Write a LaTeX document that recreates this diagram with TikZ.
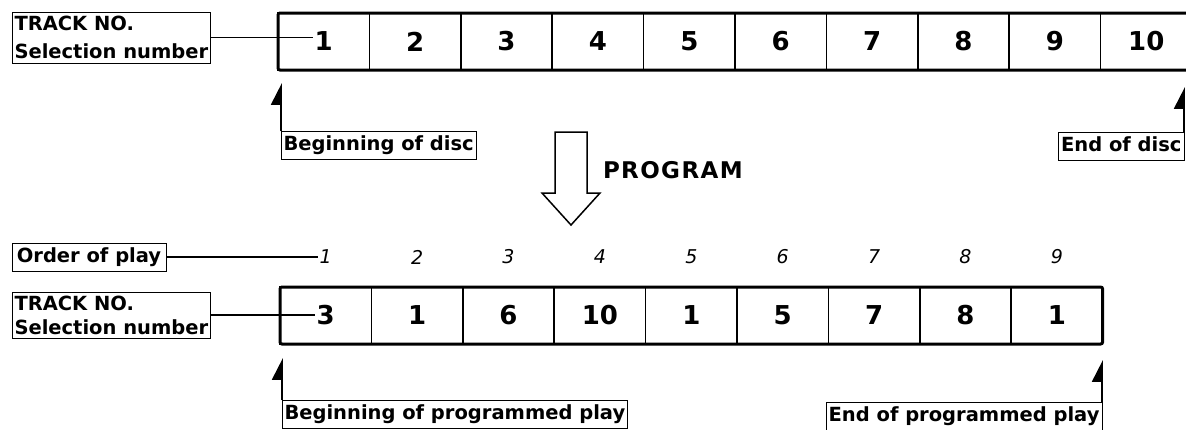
\documentclass[tikz,border=0pt]{standalone}
\usepackage{fontspec}
\setmainfont{DejaVu Sans}
\usetikzlibrary{positioning,arrows.meta}

\begin{document}
\begin{tikzpicture}[x=1pt,y=-1pt,node distance=0pt,nodes={outer sep=0pt,inner sep=0pt},
    cell/.style={draw,line width=1.5pt,minimum width=91.4pt,minimum height=57pt,font=\fontsize{26}{26}\selectfont\bfseries},
    tag/.style={draw,line width=1pt,inner xsep=2.5pt,font=\fontsize{19.5}{26}\selectfont\bfseries},
    tagone/.style={tag,text height=15pt,text depth=5pt,inner ysep=4pt},
    ordnum/.style={font=\fontsize{19}{19}\selectfont\itshape},
    lead/.style={line width=1.8pt},
    pointer/.style={line width=1.8pt,-{Triangle[left,length=20pt,width=20pt]}}]
      \useasboundingbox (0,0) rectangle (1186,429);
      \node (t1) at (278,13) [cell,anchor=north west] {1};
      \node (t2)  [cell,right=of t1] {2};
      \node (t3)  [cell,right=of t2] {3};
      \node (t4)  [cell,right=of t3] {4};
      \node (t5)  [cell,right=of t4] {5};
      \node (t6)  [cell,right=of t5] {6};
      \node (t7)  [cell,right=of t6] {7};
      \node (t8)  [cell,right=of t7] {8};
      \node (t9)  [cell,right=of t8] {9};
      \node (t10) [cell,right=of t9] {10};
      \draw[line width=3pt,rounded corners=2pt] (t10.north east) -- (t1.north west) -- (t1.south west) -- (t10.south east);
      \node (trackone) at (12,12) [tag,anchor=north west,align=left,minimum height=51pt,font=\fontsize{19.5}{28}\selectfont\bfseries] {TRACK NO.\\Selection number};
      \draw[lead,shorten >=11pt] (trackone.east) -- (trackone.east -| t1.center);
      \node (discbegin) at (281,131) [tagone,anchor=north west] {Beginning of disc};
      \node (discend) at (1184,132) [tagone,anchor=north east] {End of disc};
      \coordinate (discbegintip) at (281,83);
      \coordinate (discendtip) at (1184,87);
      \draw[pointer] (discbegin.north west) -- (discbegintip);
      \draw[pointer] (discend.north east) -- (discendtip);
      \draw[line width=1.5pt,line join=miter] (555,132) -- (587,132) -- (587,193) -- (600,193) -- (571,225) -- (542,193) -- (555,193) -- cycle;
      \node (program) at (603,170) [anchor=west,font=\fontsize{23}{23}\selectfont\bfseries\addfontfeatures{LetterSpace=6}] {PROGRAM};
      \node (b1) at (280,287) [cell,anchor=north west] {3};
      \node (b2) [cell,right=of b1] {1};
      \node (b3) [cell,right=of b2] {6};
      \node (b4) [cell,right=of b3] {10};
      \node (b5) [cell,right=of b4] {1};
      \node (b6) [cell,right=of b5] {5};
      \node (b7) [cell,right=of b6] {7};
      \node (b8) [cell,right=of b7] {8};
      \node (b9) [cell,right=of b8] {1};
      \draw[line width=3pt,rounded corners=2pt] (b1.north west) rectangle (b9.south east);
      \node (order) at (12,243) [tagone,anchor=north west,minimum width=154pt] {Order of play};
      \node (o1) at (b1 |- order) [ordnum] {1};
      \node (o2) at (b2 |- order) [ordnum] {2};
      \node (o3) at (b3 |- order) [ordnum] {3};
      \node (o4) at (b4 |- order) [ordnum] {4};
      \node (o5) at (b5 |- order) [ordnum] {5};
      \node (o6) at (b6 |- order) [ordnum] {6};
      \node (o7) at (b7 |- order) [ordnum] {7};
      \node (o8) at (b8 |- order) [ordnum] {8};
      \node (o9) at (b9 |- order) [ordnum] {9};
      \draw[lead,shorten >=2pt] (order) -- (o1);
      \node (tracktwo) at (12,292) [tag,anchor=north west,align=left,minimum height=46pt,font=\fontsize{19.5}{24}\selectfont\bfseries] {TRACK NO.\\Selection number};
      \draw[lead,shorten >=11pt] (tracktwo.east) -- (tracktwo.east -| b1.center);
      \node (progbegin) at (282,400) [tagone,anchor=north west] {Beginning of programmed play};
      \node (progend) at (1102,402) [tagone,anchor=north east] {End of programmed play};
      \coordinate (progbegintip) at (282,358);
      \coordinate (progendtip) at (1102,360);
      \draw[pointer] (progbegin.north west) -- (progbegintip);
      \draw[pointer] (progend.north east) -- (progendtip);
\end{tikzpicture}
\end{document}
